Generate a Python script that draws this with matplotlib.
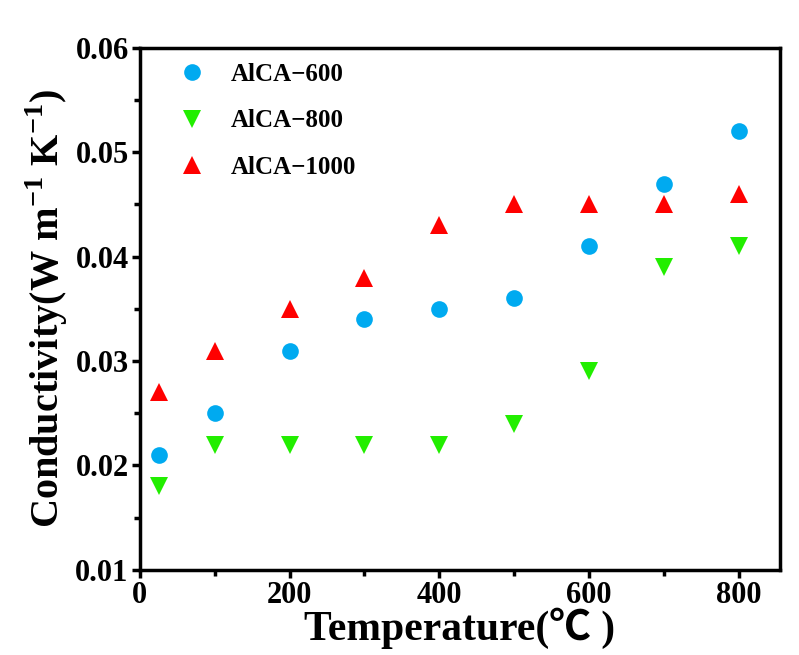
import matplotlib
matplotlib.use("Agg")
import matplotlib.pyplot as plt
from matplotlib.ticker import MultipleLocator, FormatStrFormatter

plt.rcParams['font.family'] = ['Liberation Serif', 'Noto Sans CJK SC', 'DejaVu Sans']
plt.rcParams['font.weight'] = 'bold'
plt.rcParams['mathtext.fontset'] = 'custom'
plt.rcParams['mathtext.rm'] = 'Liberation Serif:bold'

temperature = [25, 100, 200, 300, 400, 500, 600, 700, 800]
alca_600 = [0.021, 0.025, 0.031, 0.034, 0.035, 0.036, 0.041, 0.047, 0.052]
alca_800 = [0.018, 0.022, 0.022, 0.022, 0.022, 0.024, 0.029, 0.039, 0.041]
alca_1000 = [0.027, 0.031, 0.035, 0.038, 0.043, 0.045, 0.045, 0.045, 0.046]

series = [
    ("AlCA\u2212600", alca_600, "o", "#00AAF0", 12),
    ("AlCA\u2212800", alca_800, "v", "#22EE00", 13),
    ("AlCA\u22121000", alca_1000, "^", "#FF0000", 13),
]

fig = plt.figure(figsize=(7.99, 6.55), dpi=100)
ax = fig.add_axes([0.175, 0.130, 0.801, 0.797])

for label, vals, marker, color, ms in series:
    ax.plot(temperature, vals, linestyle="none", marker=marker, color=color,
            markersize=ms, markeredgewidth=0, label=label)

ax.set_xlim(0, 855)
ax.set_ylim(0.01, 0.06)
ax.xaxis.set_major_locator(MultipleLocator(200))
ax.xaxis.set_minor_locator(MultipleLocator(100))
ax.yaxis.set_major_locator(MultipleLocator(0.01))
ax.yaxis.set_minor_locator(MultipleLocator(0.005))
ax.yaxis.set_major_formatter(FormatStrFormatter("%.2f"))

for s in ax.spines.values():
    s.set_linewidth(2.5)
ax.tick_params(which="major", direction="out", length=6, width=2.5, labelsize=22, pad=2)
ax.tick_params(which="minor", direction="out", length=4, width=2.5)
for t in ax.get_xticklabels() + ax.get_yticklabels():
    t.set_fontweight("bold")

ax.set_xlabel("Temperature(\u2103 )", fontsize=30, fontweight="bold", labelpad=-2)
ax.set_ylabel("Conductivity(W m$^{-1}$ K$^{-1}$)", fontsize=29, fontweight="bold", labelpad=4)

ax.legend(loc="upper left", frameon=False, prop={"size": 18, "weight": "bold"},
          handletextpad=0.55, labelspacing=0.95, borderaxespad=0.3,
          bbox_to_anchor=(0.015, 1.005))

fig.savefig("out.png", dpi=100)
